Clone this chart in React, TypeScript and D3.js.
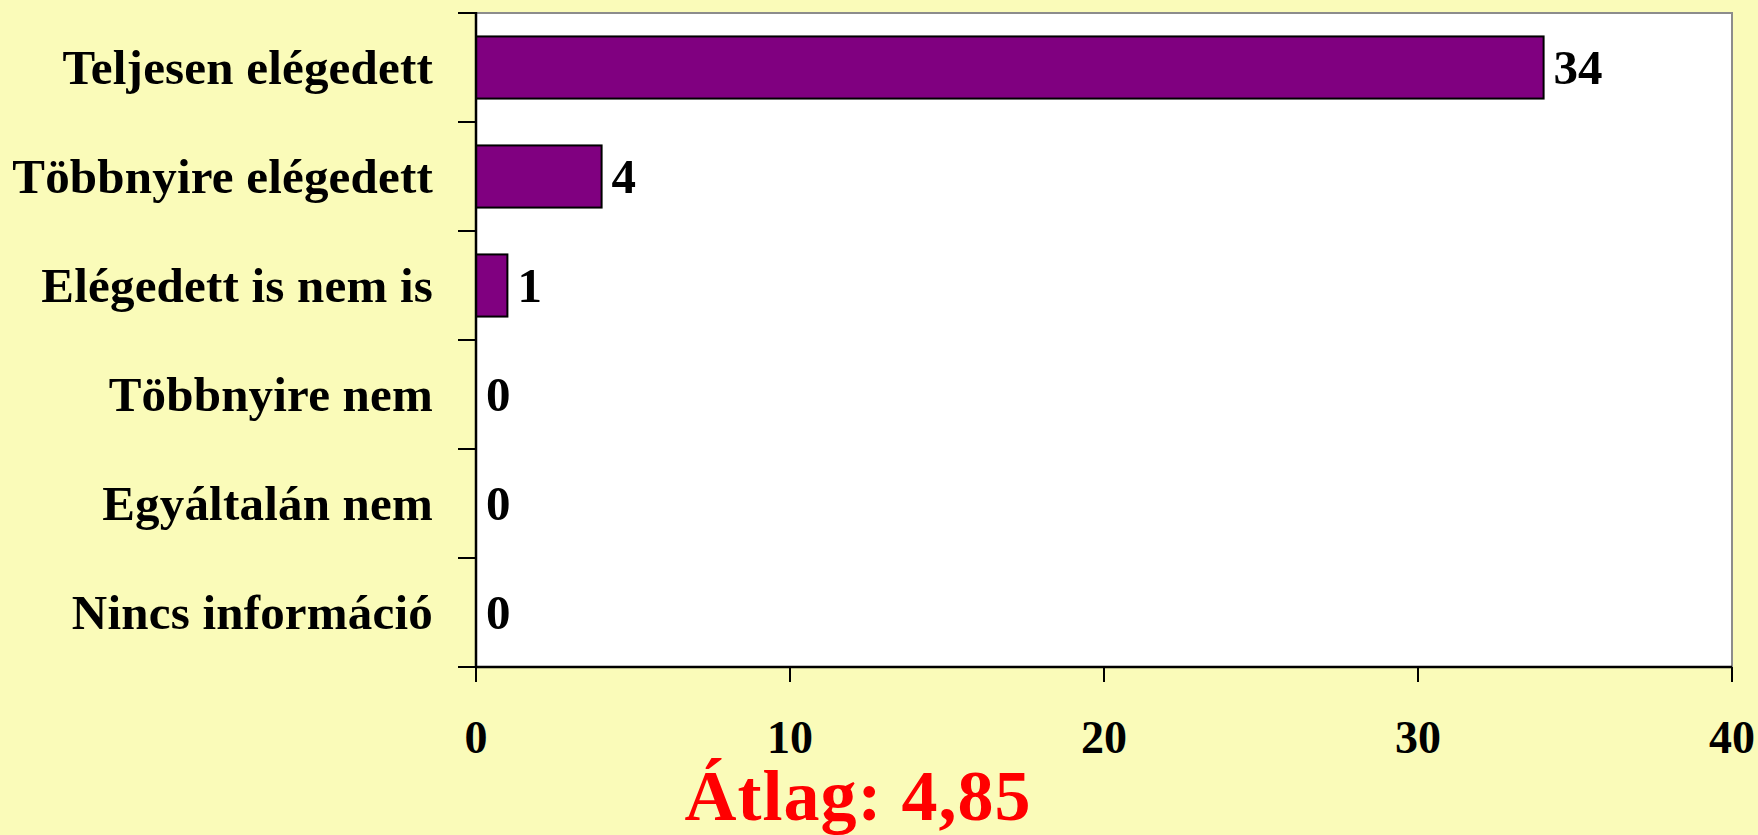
import React from "react";
import * as d3 from "d3";

const categories = [
  "Teljesen elégedett",
  "Többnyire elégedett",
  "Elégedett is nem is",
  "Többnyire nem",
  "Egyáltalán nem",
  "Nincs információ",
];
const values = [34, 4, 1, 0, 0, 0];
const xTicks = [0, 10, 20, 30, 40];
const title = "Átlag: 4,85";

const W = 1758;
const H = 835;
const left = 476;
const right = 1732;
const top = 13;
const bottom = 667;
const font = "'Liberation Serif', 'Times New Roman', serif";

export default function App() {
  const x = d3.scaleLinear().domain([0, 40]).range([left, right]);
  const y = d3
    .scaleBand<string>()
    .domain(categories)
    .range([top, bottom])
    .paddingInner(0.43)
    .paddingOuter(0.215);
  const boundaries = d3
    .range(categories.length + 1)
    .map((i) => top + ((bottom - top) / categories.length) * i);

  return (
    <svg
      width={W}
      height={H}
      style={{ position: "absolute", left: 0, top: 0, display: "block" }}
    >
      <rect x={0} y={0} width={W} height={H} fill="#FAFBB9" />
      <rect
        x={left}
        y={top}
        width={right - left}
        height={bottom - top}
        fill="#FFFFFF"
        stroke="#8C8C8C"
        strokeWidth={2}
      />
      {categories.map((c, i) => (
        <g key={c}>
          {values[i] > 0 && (
            <rect
              x={x(0)}
              y={y(c)!}
              width={x(values[i]) - x(0)}
              height={y.bandwidth()}
              fill="#800080"
              stroke="#000"
              strokeWidth={2}
            />
          )}
          <text
            x={x(values[i]) + 10}
            y={y(c)! + y.bandwidth() / 2 + 16}
            fontFamily={font}
            fontWeight="bold"
            fontSize={49}
            fill="#000"
          >
            {values[i]}
          </text>
          <text
            x={433}
            y={y(c)! + y.bandwidth() / 2 + 16}
            textAnchor="end"
            fontFamily={font}
            fontWeight="bold"
            fontSize={49}
            letterSpacing={0.2}
            fill="#000"
          >
            {c}
          </text>
        </g>
      ))}
      <line x1={left} x2={left} y1={top - 1} y2={bottom + 1} stroke="#000" strokeWidth={2.5} />
      <line x1={left} x2={right} y1={bottom} y2={bottom} stroke="#000" strokeWidth={2.5} />
      {boundaries.map((b, i) => (
        <line key={i} x1={458} x2={left} y1={b} y2={b} stroke="#000" strokeWidth={2} />
      ))}
      {xTicks.map((t) => (
        <g key={t}>
          <line x1={x(t)} x2={x(t)} y1={bottom} y2={682} stroke="#000" strokeWidth={2} />
          <text
            x={x(t)}
            y={753}
            textAnchor="middle"
            fontFamily={font}
            fontWeight="bold"
            fontSize={46}
            fill="#000"
          >
            {t}
          </text>
        </g>
      ))}
      <text
        x={858}
        y={820}
        textAnchor="middle"
        fontFamily={font}
        fontWeight="bold"
        fontSize={72}
        letterSpacing={1}
        fill="#FF0000"
      >
        {title}
      </text>
    </svg>
  );
}
